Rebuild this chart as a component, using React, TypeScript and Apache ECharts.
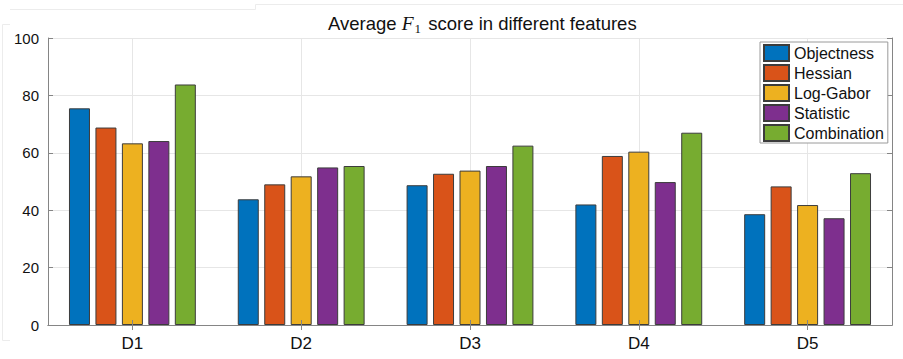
import React, { useEffect, useRef } from "react";
import * as echarts from "echarts";

// Datasets on the x axis
const categories = ["D1", "D2", "D3", "D4", "D5"];

// Average F1 score (%) per feature type
const objectness = [75.5, 43.8, 48.7, 42.0, 38.6];
const hessian = [68.8, 49.0, 52.7, 58.9, 48.3];
const logGabor = [63.3, 51.8, 53.8, 60.4, 41.8];
const statistic = [64.1, 54.9, 55.4, 49.8, 37.2];
const combination = [83.8, 55.4, 62.5, 67.0, 52.9];

const seriesNames = ["Objectness", "Hessian", "Log-Gabor", "Statistic", "Combination"];
const seriesValues = [objectness, hessian, logGabor, statistic, combination];
const seriesColors = ["#0072BD", "#D95319", "#EDB120", "#7E2F8E", "#77AC30"];

const yTicks = [0, 20, 40, 60, 80, 100];

const SANS = "'Liberation Sans', Arial, Helvetica, sans-serif";
const SERIF = "'Liberation Serif', 'DejaVu Serif', serif";
const BOX = "#858585";
const GRID = "#e6e6e6";
const FRAME = "#ececec";

export default function App() {
  const ref = useRef<HTMLDivElement>(null);

  useEffect(() => {
    if (!ref.current) return;
    const chart = echarts.init(ref.current, null, { renderer: "svg" });

    const bars = seriesNames.map((name, i) => ({
      name,
      type: "bar",
      data: seriesValues[i],
      barWidth: 21,
      barGap: "26%",
      z: 2,
      itemStyle: { color: seriesColors[i], borderColor: "#3c3c3c", borderWidth: 1 },
    }));

    chart.setOption({
      animation: false,
      backgroundColor: "#ffffff",
      title: {
        text: "{a|Average }{f|F}{s|1}{a| score in different features}",
        left: 323,
        top: 6,
        textStyle: {
          fontWeight: "normal",
          rich: {
            a: { fontFamily: SANS, fontSize: 18.5, fontWeight: "normal", color: "#111", lineHeight: 24 },
            f: { fontFamily: SERIF, fontStyle: "italic", fontWeight: "normal", fontSize: 19.5, color: "#111", lineHeight: 24 },
            s: { fontFamily: SERIF, fontSize: 13, fontWeight: "normal", color: "#111", lineHeight: 15, verticalAlign: "bottom", padding: [0, 2, 0, 1] },
          },
        },
      },
      grid: { left: 48, right: 11, top: 38, bottom: 34, show: false },
      legend: {
        data: seriesNames,
        orient: "vertical",
        left: 760,
        top: 42,
        itemWidth: 25,
        itemHeight: 16,
        itemGap: 2,
        padding: [2, 4, 1, 3],
        borderColor: "#9a9a9a",
        borderWidth: 1,
        backgroundColor: "#ffffff",
        icon: "rect",
        textStyle: { fontFamily: SANS, fontSize: 16, color: "#111", lineHeight: 16, height: 16 },
      },
      xAxis: [
        {
          type: "category",
          data: categories,
          position: "bottom",
          z: 3,
          axisLine: { show: true, lineStyle: { color: BOX, width: 1 } },
          axisTick: { show: true, inside: true, alignWithLabel: true, length: 5, lineStyle: { color: BOX } },
          axisLabel: { fontFamily: SANS, fontSize: 17, color: "#111", margin: 10 },
          splitLine: { show: false },
        },
        {
          type: "category",
          data: categories,
          position: "top",
          z: 3,
          axisLine: { show: true, lineStyle: { color: BOX, width: 1 } },
          axisTick: { show: true, inside: true, alignWithLabel: true, length: 5, lineStyle: { color: BOX } },
          axisLabel: { show: false },
          splitLine: { show: false },
        },
      ],
      yAxis: [
        {
          type: "value",
          min: yTicks[0],
          max: yTicks[yTicks.length - 1],
          interval: 20,
          position: "left",
          axisLine: { show: true, lineStyle: { color: BOX, width: 1 } },
          axisTick: { show: true, inside: true, length: 5, lineStyle: { color: BOX } },
          axisLabel: { fontFamily: SANS, fontSize: 15, color: "#111", margin: 9 },
          splitLine: { show: true, lineStyle: { color: GRID, width: 1 } },
        },
        {
          type: "value",
          min: yTicks[0],
          max: yTicks[yTicks.length - 1],
          interval: 20,
          position: "right",
          axisLine: { show: true, lineStyle: { color: BOX, width: 1 } },
          axisTick: { show: true, inside: true, length: 5, lineStyle: { color: BOX } },
          axisLabel: { show: false },
          splitLine: { show: false },
        },
      ],
      series: [
        // vertical grid lines at each category centre, kept behind the bars
        {
          name: "grid",
          type: "line",
          data: [],
          z: 1,
          silent: true,
          markLine: {
            silent: true,
            z: 1,
            symbol: "none",
            label: { show: false },
            lineStyle: { color: GRID, width: 1, type: "solid" },
            data: categories.map((c) => ({ xAxis: c })),
          },
        },
        ...bars,
      ],
      graphic: [
        {
          type: "polyline",
          silent: true,
          shape: { points: [[10, 9.5], [255.5, 9.5], [255.5, 4.5], [903, 4.5]] },
          style: { stroke: FRAME, fill: "none", lineWidth: 1 },
        },
        {
          type: "polyline",
          silent: true,
          shape: { points: [[10, 24.5], [2.5, 24.5], [2.5, 340.5], [10, 340.5]] },
          style: { stroke: FRAME, fill: "none", lineWidth: 1 },
        },
      ],
    });

    return () => chart.dispose();
  }, []);

  return (
    <div
      ref={ref}
      style={{ position: "fixed", left: 0, top: 0, width: 903, height: 359, background: "#fff" }}
    />
  );
}
